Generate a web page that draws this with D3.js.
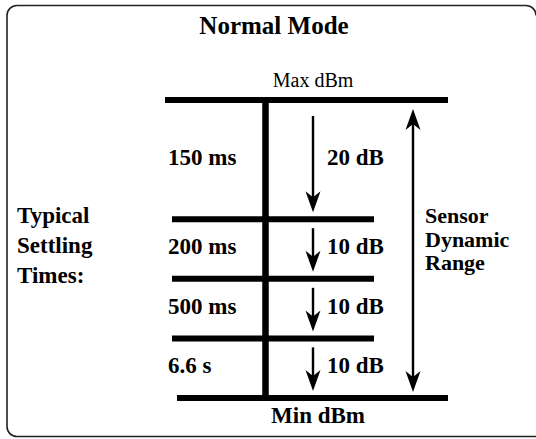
<!DOCTYPE html>
<html>
<head>
<meta charset="utf-8">
<script src="https://cdn.jsdelivr.net/npm/d3@7"></script>
<style>
  html, body { margin: 0; padding: 0; background: #fff; overflow: hidden; }
  svg { display: block; }
</style>
</head>
<body>
<div id="chart"></div>
<script>
// data
const title = "Normal Mode";
const rangeEnds = ["Max dBm", "Min dBm"];
const stepTimes = ["150 ms", "200 ms", "500 ms", "6.6 s"];
const stepDb = [20, 10, 10, 10];
const leftLines = ["Typical", "Settling", "Times:"];
const rightLines = ["Sensor", "Dynamic", "Range"];

const width = 536;
const height = 439;
const serif = "'Liberation Serif', 'Times New Roman', serif";

// levels in dB relative to max: 0, -20, -30, ...
const levels = [0];
stepDb.forEach(d => levels.push(levels[levels.length - 1] - d));

const svg = d3.select("#chart").append("svg")
  .attr("width", width)
  .attr("height", height);

// frame: rounded on the left, runs off the picture on the right
const fx = 7, fy = 5.5, fb = 436.5, r = 10;
const frame = d3.path();
frame.moveTo(width + 5, fb);
frame.lineTo(fx + r, fb);
frame.arcTo(fx, fb, fx, fb - r, r);
frame.lineTo(fx, fy + r);
frame.arcTo(fx, fy, fx + r, fy, r);
frame.lineTo(width - r, fy);
frame.arcTo(width, fy, width, fy + r, r);
svg.append("path")
  .attr("d", frame.toString())
  .attr("fill", "none")
  .attr("stroke", "#222")
  .attr("stroke-width", 1.6);

const y = d3.scaleLinear()
  .domain([0, d3.min(levels)])
  .range([100, 398]);

const axisX = 265.5;
const stepX = 313;
const totalX = 413;

// title
svg.append("text")
  .attr("x", 274).attr("y", 34)
  .attr("text-anchor", "middle")
  .attr("font-family", serif).attr("font-weight", "bold")
  .attr("font-size", 25)
  .text(title);

// level bars
const g = svg.append("g");
g.selectAll("line.level")
  .data(levels)
  .join("line")
  .attr("class", "level")
  .attr("x1", (d, i) => i === 0 ? 165 : i === levels.length - 1 ? 177 : 172)
  .attr("x2", (d, i) => (i === 0 || i === levels.length - 1) ? 448 : 374)
  .attr("y1", d => y(d)).attr("y2", d => y(d))
  .attr("stroke", "#000").attr("stroke-width", 6);

// vertical spine
g.append("line")
  .attr("x1", axisX).attr("x2", axisX)
  .attr("y1", y(0)).attr("y2", y(d3.min(levels)))
  .attr("stroke", "#000").attr("stroke-width", 6.5);

function head(x, tipY, dir) {
  // dir = 1 pointing down, -1 pointing up
  const L = 21, W = 7.5, N = 15;
  return `M${x},${tipY} L${x - W},${tipY - dir * L} L${x},${tipY - dir * N} L${x + W},${tipY - dir * L} Z`;
}

// step arrows
const steps = stepDb.map((d, i) => ({ db: d, time: stepTimes[i], top: levels[i], bottom: levels[i + 1] }));

const sg = g.selectAll("g.step").data(steps).join("g").attr("class", "step");
sg.append("line")
  .attr("x1", stepX).attr("x2", stepX)
  .attr("y1", (d, i) => y(d.top) + (i === 0 ? 16 : 9))
  .attr("y2", d => y(d.bottom) - 14)
  .attr("stroke", "#000").attr("stroke-width", 2.4);
sg.append("path")
  .attr("d", d => head(stepX, y(d.bottom) - 7, 1))
  .attr("fill", "#000");
sg.append("text")
  .attr("x", 168)
  .attr("y", d => (y(d.top) + y(d.bottom)) / 2 + 5)
  .attr("font-family", serif).attr("font-weight", "bold")
  .attr("font-size", 23)
  .text(d => d.time);
sg.append("text")
  .attr("x", 327)
  .attr("y", d => (y(d.top) + y(d.bottom)) / 2 + 5)
  .attr("font-family", serif).attr("font-weight", "bold")
  .attr("font-size", 23)
  .text(d => `${d.db} dB`);

// total range arrow
g.append("line")
  .attr("x1", totalX).attr("x2", totalX)
  .attr("y1", y(0) + 22).attr("y2", y(d3.min(levels)) - 20)
  .attr("stroke", "#000").attr("stroke-width", 2.4);
g.append("path").attr("d", head(totalX, y(0) + 9, -1)).attr("fill", "#000");
g.append("path").attr("d", head(totalX, y(d3.min(levels)) - 6, 1)).attr("fill", "#000");

// end labels
svg.append("text")
  .attr("x", 313).attr("y", y(0) - 13)
  .attr("text-anchor", "middle")
  .attr("font-family", serif)
  .attr("font-size", 20)
  .text(rangeEnds[0]);
svg.append("text")
  .attr("x", 318).attr("y", y(d3.min(levels)) + 25)
  .attr("text-anchor", "middle")
  .attr("font-family", serif).attr("font-weight", "bold")
  .attr("font-size", 23)
  .text(rangeEnds[1]);

// side captions
svg.append("g").selectAll("text")
  .data(leftLines)
  .join("text")
  .attr("x", 17)
  .attr("y", (d, i) => 223 + i * 30)
  .attr("font-family", serif).attr("font-weight", "bold")
  .attr("font-size", 23)
  .text(d => d);

svg.append("g").selectAll("text")
  .data(rightLines)
  .join("text")
  .attr("x", 425)
  .attr("y", (d, i) => 223 + i * 23.5)
  .attr("font-family", serif).attr("font-weight", "bold")
  .attr("font-size", 22)
  .text(d => d);
</script>
</body>
</html>
